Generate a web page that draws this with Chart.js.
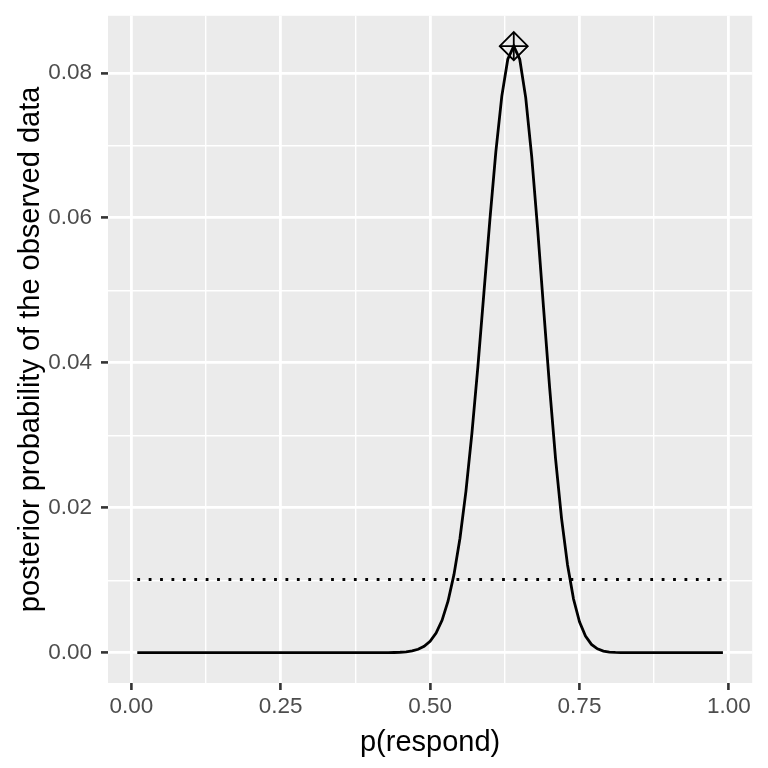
<!DOCTYPE html>
<html>
<head>
<meta charset="utf-8">
<script src="https://cdn.jsdelivr.net/npm/chart.js@4.4.1/dist/chart.umd.min.js"></script>
<style>
    html, body { margin: 0; padding: 0; background: #ffffff; }
    #chart { display: block; }
</style>
</head>
<body>
<canvas id="chart" width="768" height="768"></canvas>
<script>
"use strict";

// grid of p(respond) values
const pRespond = [
    0.01, 0.02, 0.03, 0.04, 0.05, 0.06, 0.07, 0.08, 0.09, 0.10,
    0.11, 0.12, 0.13, 0.14, 0.15, 0.16, 0.17, 0.18, 0.19, 0.20,
    0.21, 0.22, 0.23, 0.24, 0.25, 0.26, 0.27, 0.28, 0.29, 0.30,
    0.31, 0.32, 0.33, 0.34, 0.35, 0.36, 0.37, 0.38, 0.39, 0.40,
    0.41, 0.42, 0.43, 0.44, 0.45, 0.46, 0.47, 0.48, 0.49, 0.50,
    0.51, 0.52, 0.53, 0.54, 0.55, 0.56, 0.57, 0.58, 0.59, 0.60,
    0.61, 0.62, 0.63, 0.64, 0.65, 0.66, 0.67, 0.68, 0.69, 0.70,
    0.71, 0.72, 0.73, 0.74, 0.75, 0.76, 0.77, 0.78, 0.79, 0.80,
    0.81, 0.82, 0.83, 0.84, 0.85, 0.86, 0.87, 0.88, 0.89, 0.90,
    0.91, 0.92, 0.93, 0.94, 0.95, 0.96, 0.97, 0.98, 0.99
];

const posterior = [
    0, 0, 0, 0, 0, 0, 0, 0, 0, 0,
    0, 0, 0, 0, 0, 0, 0, 0, 0, 0,
    0, 0, 0, 0, 0, 0, 0, 0, 0, 0,
    0, 0, 0, 0, 0, 0, 0, 0, 0, 0,
    0.000002, 0.000005, 0.000011, 0.000026, 0.000057, 0.00012, 0.00024, 0.00047, 0.00088, 0.00157,
    0.0027, 0.00446, 0.0071, 0.0108, 0.0158, 0.0223, 0.0303, 0.0395, 0.0496, 0.0597,
    0.0691, 0.0768, 0.0819, 0.0837, 0.0819, 0.0766, 0.0685, 0.0584, 0.0474, 0.0366,
    0.0267, 0.0185, 0.0121, 0.0074, 0.00426, 0.00229, 0.00114, 0.00053, 0.00022, 0.000086,
    0.000032, 0.000011, 0.000003, 0, 0, 0, 0, 0, 0, 0,
    0, 0, 0, 0, 0, 0, 0, 0, 0
];

// flat prior, dotted line
const priorX = [0.01, 0.99];
const priorY = [0.0101, 0.0101];

// maximum of the posterior
const peakX = [0.64];
const peakY = [0.0837];

const xMajor = [0, 0.25, 0.5, 0.75, 1];
const xMinor = [0.125, 0.375, 0.625, 0.875];
const yMajor = [0, 0.02, 0.04, 0.06, 0.08];
const yMinor = [0.01, 0.03, 0.05, 0.07];

const xTitle = "p(respond)";
const yTitle = "posterior probability of the observed data";

const tickFont = { family: "'Liberation Sans', Arial, Helvetica, sans-serif", size: 22.5 };
const titleFont = { family: "'Liberation Sans', Arial, Helvetica, sans-serif", size: 29 };

const panelBackground = {
    id: "panelBackground",
    beforeDraw(chart) {
        const { ctx, chartArea } = chart;
        ctx.save();
        ctx.fillStyle = "#EBEBEB";
        ctx.fillRect(chartArea.left, chartArea.top, chartArea.right - chartArea.left, chartArea.bottom - chartArea.top);
        ctx.restore();
    }
};

function toPoints(xs, ys) {
    return xs.map((x, i) => ({ x: x, y: ys[i] }));
}

function buildTicks(major, minor) {
    return major.concat(minor).sort((a, b) => a - b).map(v => ({ value: v }));
}

function gridOptions(major) {
    return {
        color: "#FFFFFF",
        lineWidth: ctx => major.includes(ctx.tick.value) ? 2.8 : 1.4,
        drawTicks: true,
        tickLength: 7,
        tickWidth: 2.6,
        tickColor: ctx => major.includes(ctx.tick.value) ? "#333333" : "rgba(0,0,0,0)"
    };
}

new Chart(document.getElementById("chart"), {
    type: "line",
    data: {
        datasets: [
            {
                data: toPoints(peakX, peakY),
                showLine: false,
                pointStyle: "rectRot",
                pointRadius: 14,
                pointBorderWidth: 1.8,
                pointBorderColor: "#000000",
                pointBackgroundColor: "rgba(0,0,0,0)",
                order: 0
            },
            {
                data: toPoints(peakX, peakY),
                showLine: false,
                pointStyle: "cross",
                pointRadius: 14,
                pointBorderWidth: 1.8,
                pointBorderColor: "#000000",
                order: 0
            },
            {
                data: toPoints(pRespond, posterior),
                borderColor: "#000000",
                borderWidth: 2.8,
                pointRadius: 0,
                tension: 0,
                order: 1
            },
            {
                data: toPoints(priorX, priorY),
                borderColor: "#000000",
                borderWidth: 2.8,
                borderDash: [2.8, 8.6],
                borderCapStyle: "butt",
                pointRadius: 0,
                order: 2
            }
        ]
    },
    options: {
        responsive: false,
        devicePixelRatio: 1,
        animation: false,
        layout: {
            padding: { top: 15, right: 15, left: 0, bottom: 0 }
        },
        plugins: {
            legend: { display: false },
            tooltip: { enabled: false }
        },
        scales: {
            x: {
                type: "linear",
                min: -0.039,
                max: 1.039,
                afterBuildTicks: axis => { axis.ticks = buildTicks(xMajor, xMinor); },
                afterFit: scale => {
                    scale.height = 85;
                    scale.paddingLeft = 0;
                    scale.paddingRight = 0;
                },
                border: { display: false },
                grid: gridOptions(xMajor),
                ticks: {
                    autoSkip: false,
                    maxRotation: 0,
                    padding: 3,
                    color: "#4D4D4D",
                    font: tickFont,
                    callback: value => xMajor.includes(value) ? value.toFixed(2) : ""
                },
                title: {
                    display: true,
                    text: xTitle,
                    color: "#000000",
                    font: titleFont,
                    padding: { top: 0, bottom: 8 }
                }
            },
            y: {
                type: "linear",
                min: -0.004185,
                max: 0.087885,
                afterBuildTicks: axis => { axis.ticks = buildTicks(yMajor, yMinor); },
                afterFit: scale => {
                    scale.width = 108;
                    scale.paddingTop = 0;
                    scale.paddingBottom = 0;
                },
                border: { display: false },
                grid: gridOptions(yMajor),
                ticks: {
                    autoSkip: false,
                    padding: 9,
                    color: "#4D4D4D",
                    font: tickFont,
                    callback: value => yMajor.includes(value) ? value.toFixed(2) : ""
                },
                title: {
                    display: true,
                    text: yTitle,
                    color: "#000000",
                    font: titleFont,
                    padding: { top: 14, bottom: 0 }
                }
            }
        }
    },
    plugins: [panelBackground]
});
</script>
</body>
</html>
